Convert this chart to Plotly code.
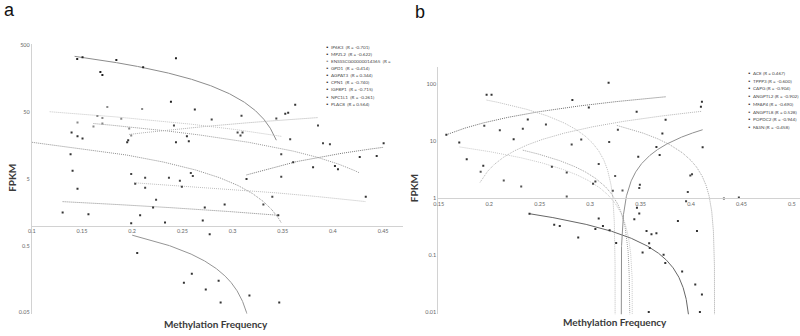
import numpy as np
import plotly.graph_objects as go

FONT = "Lato"

# ---------------- Panel a data ----------------
a_gene_names = ["IP6K3", "MPZL2", "ENSSSCG00000014365", "GPD1", "AGPAT3",
                "CPN1", "IGFBP1", "NPC1L1", "PLAC8"]
a_gene_r = ["(R = -0.701)", "(R = -0.622)", "(R =", "(R = -0.414)", "(R = 0.344)",
            "(R = -0.740)", "(R = -0.715)", "(R = -0.261)", "(R = 0.564)"]

a_pt_x = [0.1452, 0.1505, 0.1683, 0.1703, 0.1842, 0.2109, 0.2436, 0.2386,
          0.1396, 0.1455, 0.1505, 0.196, 0.195, 0.2545, 0.2564, 0.2436, 0.1386, 0.1406, 0.1455,
          0.1752, 0.2099, 0.1653, 0.1703, 0.1891, 0.1455, 0.1614, 0.1703, 0.197, 0.199,
          0.2416, 0.2792, 0.3089, 0.305, 0.3099, 0.3079, 0.3436, 0.3851, 0.3574, 0.3901, 0.397, 0.3485,
          0.2624, 0.3525, 0.3554, 0.3624,
          0.2772, 0.205, 0.2594, 0.2515, 0.2861, 0.2733, 0.3168, 0.2881, 0.3465,
          0.1564, 0.1307, 0.199, 0.2079, 0.2208, 0.2327, 0.2703, 0.2723, 0.2921, 0.3455,
          0.199, 0.2129, 0.2129, 0.203, 0.2238, 0.2366, 0.2475, 0.2495, 0.2584, 0.2604, 0.3307, 0.3396, 0.3485,
          0.3604, 0.3802, 0.402, 0.4267, 0.4436, 0.4505, 0.3139, 0.405, 0.4327]
a_pt_y = [313, 332, 201, 180, 303, 236, 321, 72,
          24.8, 21.7, 20.2, 18.9, 17.7, 21.7, 18.3, 17.7, 11.7, 6.6, 3.56,
          60, 56, 44, 41, 40, 35, 30.5, 33.8, 28.5, 22.4,
          31.5, 38.7, 44.4, 24.8, 24.8, 22.4, 40.1, 31.6, 19.6, 17.1, 16.5, 11.7,
          55, 47.5, 49.2, 64.6,
          0.74, 0.387, 0.189, 0.139, 0.149, 0.110, 0.089, 0.070, 0.070,
          1.47, 1.57, 1.08, 1.42, 1.86, 1.11, 1.19, 1.86, 2.06, 1.42,
          5.93, 5.18, 3.68, 4.22, 2.44, 5.18, 4.67, 3.81, 6.14, 5.54, 2.06, 2.71, 5.36,
          8.9, 7.5, 7.8, 10.6, 11.0, 17.1, 5.0, 7.0, 2.71]
a_pt_gene = [0] * 8 + [1] * 11 + [2] * 10 + [3] * 12 + [4] * 4 + [5] * 9 + [6] * 10 + [7] * 13 + [8] * 9

# linear trendlines (FPKM = intercept + slope * methylation)
a_fit_intercept = [574.6, 24.38, 65.64, 50.63, 4.03, 1.886, 2.80, 6.2, -15.33]
a_fit_slope = [-1617, -66.8, -126, -104.3, 97.3, -5.85, -3.98, -9.06, 67.1]
a_fit_xstart = [0.1426, 0.1, 0.1178, 0.1614, 0.197, 0.2, 0.1307, 0.202, 0.3139]
a_fit_xend = [0.3436, 0.3485, 0.3485, 0.4267, 0.385, 0.33, 0.3465, 0.4327, 0.4505]

a_xticks = [0.1, 0.15, 0.2, 0.25, 0.3, 0.35, 0.4, 0.45]
a_xticklabels = ["0.1", "0.15", "0.2", "0.25", "0.3", "0.35", "0.4", "0.45"]
a_yticks = [0.05, 0.5, 5, 50, 500]
a_yticklabels = ["0.05", "0.5", "5", "50", "500"]

# ---------------- Panel b data ----------------
b_gene_names = ["ACE", "TPPP3", "CAPG", "ANGPTL2", "MFAP4", "ANGPTL8", "POPDC2", "FASN"]
b_gene_r = ["(R = 0.467)", "(R = -0.600)", "(R = -0.904)", "(R = -0.902)",
            "(R = -0.690)", "(R = 0.528)", "(R = -0.944)", "(R = -0.458)"]

b_pt_x = [0.1575, 0.1974, 0.2023, 0.2382, 0.2824, 0.2987, 0.3183, 0.3461, 0.3748, 0.4108,
          0.1951, 0.2105, 0.2333, 0.2562, 0.2817, 0.2912, 0.3189, 0.3275,
          0.1777, 0.1941, 0.1703, 0.2242,
          0.3085, 0.2621, 0.2768, 0.3052, 0.3029,
          0.3477, 0.3657, 0.3689, 0.3716, 0.4098, 0.4115,
          0.1915, 0.2144, 0.2317, 0.2768, 0.3248, 0.3225, 0.3321,
          0.2399, 0.2644, 0.2699, 0.2882, 0.3052, 0.3085, 0.3127, 0.3193, 0.3258, 0.3438,
          0.3464, 0.3487, 0.3559, 0.3608, 0.3657, 0.3585, 0.3591, 0.3520, 0.3728, 0.3745,
          0.3870, 0.3912, 0.4059, 0.4042, 0.4108, 0.3581, 0.4088,
          0.3493, 0.3487, 0.3993, 0.4010, 0.3968, 0.3951, 0.4326, 0.4474]
b_pt_y = [12.9, 64.5, 64.5, 23.8, 52.2, 38.9, 105, 32.7, 23.5, 48.8,
          18.5, 15.4, 16.4, 19.5, 8.7, 10.6, 9.6, 15.8,
          4.78, 3.70, 9.4, 10.7,
          3.95, 3.55, 2.80, 1.95, 1.78,
          5.3, 7.9, 5.7, 13.5, 40, 7.8,
          2.91, 2.03, 1.60, 1.07, 2.45, 1.35, 1.36,
          0.53, 0.34, 0.325, 0.205, 0.288, 0.44, 0.325, 0.274, 0.163, 0.425,
          0.676, 0.539, 0.266, 0.233, 0.243, 0.161, 0.134, 0.111, 0.102, 0.073,
          0.396, 0.052, 0.266, 0.0305, 0.0205, 0.0101, 0.0101,
          1.71, 1.50, 2.48, 2.63, 1.28, 0.88, 0.98, 1.03]
b_pt_gene = [0] * 10 + [1] * 8 + [2] * 4 + [3] * 5 + [4] * 6 + [5] * 7 + [6] * 27 + [7] * 8

b_fit_intercept = [-20.96, 133.2, 15.72, 22.13, 82.08, -25.3, 1.329, -64.33]
b_fit_slope = [215, -410, -45.9, -65.2, -193.8, 142.4, -3.32, 194.7]
b_fit_xstart = [0.1575, 0.1974, 0.1706, 0.2333, 0.3265, 0.1909, 0.2399, 0.32]
b_fit_xend = [0.3748, 0.34, 0.35, 0.35, 0.43, 0.4108, 0.41, 0.4115]

b_xticks = [0.15, 0.2, 0.25, 0.3, 0.35, 0.4, 0.45, 0.5]
b_xticklabels = ["0.15", "0.2", "0.25", "0.3", "0.35", "0.4", "0.45", "0.5"]
b_yticks = [0.01, 0.1, 1, 10, 100]
b_yticklabels = ["0.01", "0.1", "1", "10", "100"]

# ---------------- styles ----------------
a_line_color = ["#8c8c8c", "#8f8f8f", "#c4c4c4", "#9a9a9a", "#b0b0b0", "#959595", "#8a8a8a", "#bdbdbd", "#7a7a7a"]
a_line_dash = ["solid", "1px,1px", "1px,1px", "1px,1px", "1px,1px", "solid", "1px,1px", "1px,1px", "1px,1px"]
a_pt_color = ["#222", "#333", "#888", "#444", "#333", "#333", "#333", "#444", "#333"]
b_line_color = ["#6f6f6f", "#bdbdbd", "#c8c8c8", "#a0a0a0", "#a4a4a4", "#b4b4b4", "#666666", "#909090"]
b_line_dash = ["1px,1px", "1px,1px", "1px,1px", "1px,1px", "1px,1px", "1px,1px", "solid", "solid"]
b_pt_color = ["#333", "#444", "#333", "#444", "#333", "#555", "#333", "#444"]


def fit_curve(a, b, x0, x1):
    root = -a / b
    if b < 0 and x1 >= root:
        x1 = root - 1e-7
    if b > 0 and x0 <= root:
        x0 = root + 1e-7
    t = np.linspace(0, 1, 400)
    xs = np.unique(np.concatenate([x0 + (x1 - x0) * t,
                                   x0 + (x1 - x0) * t ** 6,
                                   x1 - (x1 - x0) * t ** 6]))
    ys = a + b * xs
    m = ys > 0
    return xs[m], ys[m]


fig = go.Figure()


def add_panel(names, px, py, pg, ia, sl, xs0, xs1, lcol, ldash, pcol, xa, ya):
    for g in range(len(names)):
        xs, ys = fit_curve(ia[g], sl[g], xs0[g], xs1[g])
        fig.add_trace(go.Scatter(x=xs, y=ys, mode="lines", xaxis=xa, yaxis=ya,
                                 line=dict(color=lcol[g], width=1, dash=ldash[g]),
                                 hoverinfo="skip", showlegend=False))
    for g in range(len(names)):
        gx = [x for x, k in zip(px, pg) if k == g]
        gy = [y for y, k in zip(py, pg) if k == g]
        fig.add_trace(go.Scatter(x=gx, y=gy, mode="markers", xaxis=xa, yaxis=ya, name=names[g],
                                 marker=dict(symbol="square", size=2, color=pcol[g]),
                                 showlegend=False))


add_panel(a_gene_names, a_pt_x, a_pt_y, a_pt_gene, a_fit_intercept, a_fit_slope,
          a_fit_xstart, a_fit_xend, a_line_color, a_line_dash, a_pt_color, "x", "y")
add_panel(b_gene_names, b_pt_x, b_pt_y, b_pt_gene, b_fit_intercept, b_fit_slope,
          b_fit_xstart, b_fit_xend, b_line_color, b_line_dash, b_pt_color, "x2", "y2")

W, H = 800, 336


def pxx(v):
    return v / W


def pxy(v):
    return 1 - v / H


# layout geometry
a_xdom = [27 / W, 400 / W]
a_xrng = [0.1, 0.4693]
a_ydom = [1 - 315.3 / H, 1 - 42.6 / H]
a_yrng = [-1.32, 2.72]
b_xdom = [436 / W, 1.0]
b_xrng = [0.1495, 0.508]
b_ydom = [1 - 316 / H, 1 - 66 / H]
b_yrng = [-2.035, 2.294]


def cross_pos(dom, rng):
    return dom[0] + (0 - rng[0]) / (rng[1] - rng[0]) * (dom[1] - dom[0])


tickfont = dict(family=FONT, size=5.5, color="#666")
axcommon = dict(showline=True, linecolor="#d2d2d2", linewidth=1, ticks="", showgrid=False,
                zeroline=False, tickfont=tickfont, tickmode="array")

fig.update_layout(
    width=W, height=H, margin=dict(l=0, r=0, t=0, b=0),
    paper_bgcolor="white", plot_bgcolor="white", showlegend=False,
    xaxis=dict(domain=a_xdom, range=a_xrng, anchor="free", position=cross_pos(a_ydom, a_yrng),
               tickvals=a_xticks, ticktext=a_xticklabels, **axcommon),
    yaxis=dict(type="log", domain=a_ydom, range=a_yrng, anchor="x",
               tickvals=a_yticks, ticktext=a_yticklabels, **axcommon),
    xaxis2=dict(domain=b_xdom, range=b_xrng, anchor="free", position=cross_pos(b_ydom, b_yrng),
                tickvals=b_xticks, ticktext=b_xticklabels, **axcommon),
    yaxis2=dict(type="log", domain=b_ydom, range=b_yrng, anchor="x2",
                tickvals=b_yticks, ticktext=b_yticklabels, **axcommon),
)

ann = []


def note(x, y, text, font, **kw):
    d = dict(x=pxx(x), y=pxy(y), xref="paper", yref="paper", text=text, showarrow=False,
             xanchor=kw.pop("xanchor", "center"), yanchor="middle", font=font)
    d.update(kw)
    ann.append(d)


letter_font = dict(family="Liberation Sans", size=18, color="#111")
note(5, 8, "a", letter_font)
note(418, 10, "b", letter_font)

title_font = dict(family=FONT, size=10, color="#3a3a3a", weight="bold")
note(212, 326, "Methylation Frequency", title_font)
note(614, 324, "Methylation Frequency", title_font)
note(7, 178, "FPKM", title_font, textangle=-90)
note(411, 188, "FPKM", title_font, textangle=-90)

leg_font = dict(family=FONT, size=4.6, color="#4a4a4a")
for i, (n, r) in enumerate(zip(a_gene_names, a_gene_r)):
    yy = 45.3 + 7.2 * i
    note(321, yy, "▪", dict(family=FONT, size=5, color=a_pt_color[i]), xanchor="left")
    note(326, yy, n + "  " + r, leg_font, xanchor="left")
for i, (n, r) in enumerate(zip(b_gene_names, b_gene_r)):
    yy = 71.7 + 7.85 * i
    note(746, yy, "▪", dict(family=FONT, size=5, color=b_pt_color[i]), xanchor="left")
    note(751, yy, n + " " + r, leg_font, xanchor="left")

fig.update_layout(annotations=ann)
fig.write_html("out.html")
